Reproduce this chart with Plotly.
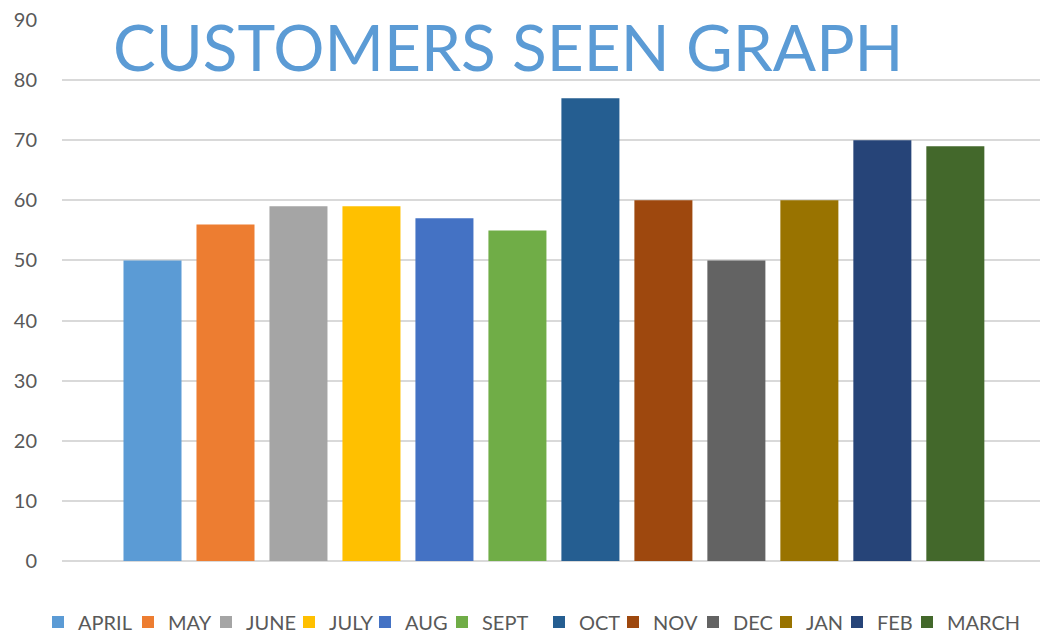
import plotly.graph_objects as go

months = ["APRIL", "MAY", "JUNE", "JULY", "AUG", "SEPT", "OCT", "NOV", "DEC", "JAN", "FEB", "MARCH"]
customers = [50, 56, 59, 59, 57, 55, 77, 60, 50, 60, 70, 69]
colors = ["#5B9BD5", "#ED7D31", "#A5A5A5", "#FFC000", "#4472C4", "#70AD47",
          "#255E91", "#9E480E", "#636363", "#997300", "#264478", "#43682B"]
# left edge (px) of each legend swatch in the reference layout
legend_left_px = [52, 142, 220, 303, 379, 456, 553, 627, 707, 780, 851, 921]

W, H = 1042, 638
fig = go.Figure()
layout_legends = {}
for i, (m, v, c) in enumerate(zip(months, customers, colors)):
    lname = "legend" if i == 0 else f"legend{i + 1}"
    fig.add_trace(go.Bar(x=[m], y=[v], name=m, legend=lname,
                         marker=dict(color=c, line=dict(width=0)), width=0.795))
    layout_legends[lname] = dict(
        xref="container", yref="container",
        x=(legend_left_px[i] - 14) / W, xanchor="left",
        y=1 - 622 / H, yanchor="middle",
        bgcolor="rgba(0,0,0,0)", borderwidth=0,
        font=dict(family="Lato, sans-serif", size=20, color="#595959"),
    )

fig.update_layout(
    width=W, height=H,
    margin=dict(l=62, r=2, t=20, b=77, autoexpand=False),
    paper_bgcolor="white", plot_bgcolor="white",
    barmode="overlay",
    showlegend=True,
    xaxis=dict(type="category", categoryorder="array", categoryarray=months,
               range=[-1.24, 12.16], showticklabels=False, showgrid=False,
               zeroline=False, showline=False, ticks=""),
    yaxis=dict(range=[0, 90], dtick=10, showgrid=True, gridcolor="#D9D9D9", gridwidth=2,
               zeroline=True, zerolinecolor="#D9D9D9", zerolinewidth=2,
               showline=False, ticks="", ticklabelstandoff=24,
               tickfont=dict(family="Lato, sans-serif", size=20, color="#595959")),
    annotations=[dict(text="CUSTOMERS SEEN GRAPH", xref="paper", yref="paper",
                      x=(508 - 62) / 978, y=(561 - 47) / 541, xanchor="center", yanchor="middle",
                      showarrow=False,
                      font=dict(family="Lato, sans-serif", size=64, color="#5B9BD5"))],
    **layout_legends,
)

fig.write_html("out.html")
